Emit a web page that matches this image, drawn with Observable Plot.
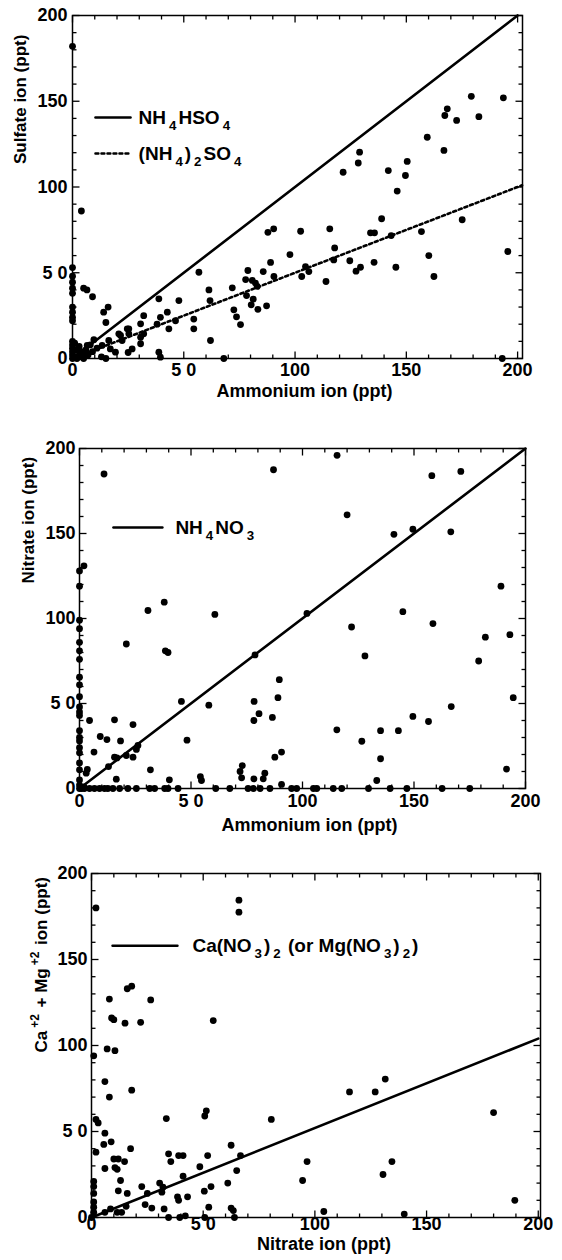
<!DOCTYPE html>
<html>
<head>
<meta charset="utf-8">
<script src="https://cdn.jsdelivr.net/npm/d3@7"></script>
<script src="https://cdn.jsdelivr.net/npm/@observablehq/plot@0.6"></script>
<style>
  html, body { margin: 0; padding: 0; background: #fff; }
  #chart svg { display: block; }
</style>
</head>
<body>
<div id="chart"></div>
<script>
// ---------- tick labels ----------
const majorTicks = [0, 50, 100, 150, 200];
const minorTicks = [10, 20, 30, 40, 60, 70, 80, 90, 110, 120, 130, 140, 160, 170, 180, 190];
const tickLabel = d => d === 50 ? "5 0" : String(d);

// ---------- panel 1: sulfate vs ammonium (ppt) ----------
const sulfateVsAmmonium = [
  [0,182],[0,53],[0,48],[0,44.5],[0,41],[0,38],[0,30],[0,27],[0,24],[0,22],[0,10],[0,8],[0,6],[0,4],[0,2],[0,0],[1,9],[1,5],[1,1],
  [2,0],[2,5],[3,2],[3,7],[4,1],[4,4],[5,0],[5,3],[6,5],[7,2],[8,8],[9,4],[11,6],[13,1],
  [4,86],[5,41],[6.5,40],[9,36],[14,27],[16,30],[15,21],[9.6,11],[6.6,7.6],[13.3,7.6],[16.3,10.5],[17,5.6],[19.3,3.7],
  [21.6,13.4],[22.3,10.5],[25.3,17.3],[25.3,14.4],[26.8,5.6],[25,3.5],[30.6,12.4],[32,14.4],[30.6,20.2],[32,25],[30.6,8.6],
  [38.8,34.8],[38,20],[39.5,24],[42.6,27],[43.3,17.3],[38.8,3.7],[39.5,0.8],[47.8,33.8],[46.3,22],[54.5,23],[54.5,17.3],
  [56.8,50.3],[15,0],[20.8,14.4],[24.6,17.3],[61.3,40],[61.8,33.8],[62,10.5],[68,0],
  [71.8,41.2],[72.5,28.4],[73.7,24.3],[75.5,19.8],[78.8,51.3],[77.8,46],[80.8,45.5],[82.2,44],[83,42],[78.2,36.7],
  [81.2,34.6],[80.3,31.3],[83.3,28.7],[87.2,30.7],[87.8,73.6],[90.4,75.6],[89,56],[85.7,50.7],[90.5,47.8],[97.7,60.6],
  [102.5,74.2],[103,47.8],[104.7,53.6],[106.2,50.7],[113.9,44.9],[115.6,75.6],[117.8,64.5],[117.4,57.5],
  [179.2,152.9],[193.6,152],[168.4,145.6],[167.3,141.7],[172.6,138.8],[182.6,141],[159.4,129],[166.9,121.3],
  [129,120.3],[128.4,114],[121.6,108.6],[141.9,109.6],[150.4,114.9],[149.6,106.7],[145.9,97.6],[138.9,81.5],
  [175.1,80.9],[133.9,73.3],[135.7,73.3],[143.2,71.7],[156.8,74],[124.6,57],[127.4,50.9],[129.4,53.2],[135.5,56.1],
  [145.3,53.2],[160.1,60],[162.4,47.8],[195.6,62.4],[193.1,0]
];
const nh4hso4Line = [[0, 0], [200, 200]];
const nh42so4Line = [[0, 0], [202, 101]];

// ---------- panel 2: nitrate vs ammonium (ppt) ----------
const nitrateVsAmmonium = [
  [0,128],[2,131],[0,119],[0,99],[0,94],[0,86],[0,81],[0,76],[0,65.5],[0,61],[0,54],[0,48],[0,45],[0,43],[0,34],[0,30],
  [0,28],[0,24],[0,21],[0,15],[0,11],[0,5],[0,2],[0,0],[1,0],[2,1],
  [11,185],[87,187.5],[115.5,196],[158,184],[171,186.5],[120,161],[141,149.5],[149.5,152.5],[166.5,151],
  [30.7,104.7],[38,109.6],[38.5,81],[39.7,80],[21,85],[60.7,102.4],[102,103],[145,104],[122,95],[158.5,97],
  [189,119],[182,89],[193,90.5],[179,75],[128,78],[78.7,78.6],
  [4.5,40],[9.3,30.6],[12.3,28.8],[15.7,40.4],[18.4,28],[24,37.6],[21,19.4],[24,18.4],[15.7,18.4],[16.8,18],
  [13,12.9],[16.5,5.5],[6.5,21.4],[3.5,11.2],[3,9],[26.2,25.3],[25.5,23],[31.8,11],[40.3,5.1],
  [45.7,51.2],[48.2,28.4],[58,49],[54.2,7],[54.7,4.7],
  [78.3,51.2],[80.5,44],[78.2,40],[86.5,41.8],[89.6,64],[89,53.4],[87.6,18.4],[90.6,21.4],[72,10],[72.7,6.3],
  [73,13.5],[78.2,5.7],[82.4,5.7],[83.1,9],[90.6,2.4],
  [194.5,53.4],[166.7,48.2],[149.5,42.4],[156.5,39.4],[115.4,34.5],[135,34],[143,34],[126.6,27.8],[135,17.5],
  [191.5,11.4],[133.3,4.7],
  [2.2,0],[4.5,0],[6.7,0],[9,0],[11.2,0],[12.7,0],[15,0],[18,0],[21.7,0],[25.5,0],[31.5,0],[33.7,0],[38.2,0],
  [39.7,0],[44.2,0],[61.1,0],[67.4,0],[75.6,0],[78,0],[81,0],[85.4,0],[95.1,0],[97.4,0],[104.9,0],[106.4,0],
  [113.8,0],[117.6,0],[129.6,0],[139.3,0],[146.8,0],[162.6,0],[175,0]
];
const nh4no3Line = [[0, 0], [200, 200]];

// ---------- panel 3: Ca+2 + Mg+2 vs nitrate (ppt) ----------
const caMgVsNitrate = [
  [2,180],[1,94],[2,57],[3,55],[2,38],[1,21],[1,18],[1,14],[1,9],[1,6],[0,0],[1,3],
  [8,127],[9,116],[10,115],[16,133],[18,134.5],[15,113],[22,113.5],[26.5,126.5],[54.5,114.5],
  [66,184.5],[66,177.5],
  [7,98],[10.5,97],[6,79],[8,70],[18,74],
  [6,49],[5.5,42.5],[8.8,44],[17.5,40],
  [10,34],[12,34],[14.8,32.5],[6,28.5],[10.5,29],[11.5,28],
  [13,21.5],[12,15.5],[16,14],[22.5,18],[25,14],[24,7.5],[27,5.5],
  [30.5,20],[32,17.6],[31.5,14.7],[33.5,57.5],[34.5,37],[35.5,32.5],[39,36],[41,36],[41,24],[38.5,12],[39,10],
  [43,12],[32.5,5],[34.5,0],[39.5,0],[42,1],
  [8.5,5],[6,3],[11.5,3],[13.5,3],[15.5,6.5],
  [48.5,29.5],[50.7,59],[51.4,62],[52,36],[50.5,15.3],[53.5,18],[52.5,6],[50.7,0],
  [62.5,42],[65,27.3],[66.7,36],[61,20],[62.5,5.5],[63.5,4],[64,0],
  [80.5,57],[115.5,73],[127,73],[131.5,80.5],[180,61],[96.5,32.5],[94.5,21.5],[134.5,32.5],[130.5,25],
  [189.5,10],[104,3.5],[140,2]
];
const caNitrateLine = [[0, 0], [200, 104]];

// ---------- legend entries ----------
const legend1 = [
  {label: "NH_{4}HSO_{4}", dash: null, x1: 10.3, x2: 26.1, y: 140.5, tx: 29.7},
  {label: "(NH_{4})_{2}SO_{4}", dash: "3,3", x1: 10.3, x2: 26.1, y: 119.5, tx: 29.7}
];
const legend2 = [
  {label: "NH_{4}NO_{3}", dash: null, x1: 15.2, x2: 37.2, y: 153.5, tx: 43}
];
const legend3 = [
  {label: "Ca(NO_{3})_{2} (or Mg(NO_{3})_{2})", dash: null, x1: 9.4, x2: 38.5, y: 158, tx: 45.2}
];

// ---------- helpers ----------
function tickSym(dx, dy, len) {
  return {draw(ctx) { ctx.moveTo(0, 0); ctx.lineTo(dx * len, dy * len); }};
}
const MAJ = 7, MIN = 4;
const tickStyle = {r: 1, fill: "none", stroke: "black", strokeWidth: 1.3};

function frameTicks(xd, yd) {
  const [x0, x1] = xd, [y0, y1] = yd;
  const out = [];
  for (const [vals, len] of [[majorTicks, MAJ], [minorTicks, MIN]]) {
    out.push(Plot.dot(vals, {x: d => d, y: () => y0, symbol: tickSym(0, -1, len), ...tickStyle}));
    out.push(Plot.dot(vals, {x: d => d, y: () => y1, symbol: tickSym(0, 1, len), ...tickStyle}));
    out.push(Plot.dot(vals, {x: () => x0, y: d => d, symbol: tickSym(1, 0, len), ...tickStyle}));
    out.push(Plot.dot(vals, {x: () => x1, y: d => d, symbol: tickSym(-1, 0, len), ...tickStyle}));
  }
  return out;
}

function richify(svg) {
  const NS = "http://www.w3.org/2000/svg";
  svg.querySelectorAll("text").forEach(t => {
    const s = t.textContent;
    if (!/[_^]\{/.test(s)) return;
    while (t.firstChild) t.removeChild(t.firstChild);
    const re = /([_^])\{([^}]*)\}/g;
    let last = 0, m, shift = 0;
    const add = (str, dy, small, dx) => {
      const ts = document.createElementNS(NS, "tspan");
      ts.textContent = str;
      if (dy) ts.setAttribute("dy", dy);
      if (dx) ts.setAttribute("dx", dx);
      if (small) ts.setAttribute("font-size", "0.7em");
      t.appendChild(ts);
    };
    while ((m = re.exec(s))) {
      if (m.index > last) { add(s.slice(last, m.index), -shift, false, shift ? 2 : 0); shift = 0; }
      const target = m[1] === "_" ? 6 : -8;
      add(m[2], target - shift, true, 3);
      shift = target;
      last = re.lastIndex;
    }
    if (last < s.length) add(s.slice(last), -shift, false, shift ? 2 : 0);
  });
}

const FONT = "'Liberation Sans', Arial, Helvetica, sans-serif";

function makePanel(cfg) {
  const {points, lines, legend, xTitle, yTitle, height, mt, mb, ml, mr, xDomain, yDomain,
         xTickPad, yTickPad, xTitleDx, xTitleDy, yTitleDx, yTitleDy} = cfg;
  const marks = [
    ...frameTicks(xDomain, yDomain),
    ...lines.map(l => Plot.line(l.data, {x: d => d[0], y: d => d[1], stroke: "black", strokeWidth: 2.6, strokeDasharray: l.dash || undefined})),
    ...legend.map(e => Plot.line([[e.x1, e.y], [e.x2, e.y]], {x: d => d[0], y: d => d[1], stroke: "black", strokeWidth: 2.4, strokeDasharray: e.dash || undefined})),
    Plot.text(legend, {x: d => d.tx, y: d => d.y, text: d => d.label, textAnchor: "start", fontSize: 19, fontWeight: "bold", fill: "black"}),
    Plot.dot(points, {x: d => d[0], y: d => d[1], r: 3.4, fill: "black", stroke: "none"}),
    Plot.frame({stroke: "black", strokeWidth: 1.5}),
    Plot.axisX({ticks: majorTicks, tickSize: 0, tickPadding: xTickPad, tickFormat: tickLabel, fontSize: 18, fontWeight: "bold", label: null, fill: "black"}),
    Plot.axisY({ticks: majorTicks, tickSize: 0, tickPadding: yTickPad, tickFormat: tickLabel, fontSize: 18, fontWeight: "bold", label: null, fill: "black"}),
    Plot.text([xTitle], {frameAnchor: "bottom", dx: xTitleDx, dy: xTitleDy, text: d => d, fontSize: 18, fontWeight: "bold", fill: "black"}),
    Plot.text([yTitle], {frameAnchor: "left", rotate: -90, dx: yTitleDx, dy: yTitleDy, text: d => d, fontSize: 17, fontWeight: "bold", fill: "black"})
  ];
  const svg = Plot.plot({
    width: 562, height,
    marginTop: mt, marginBottom: mb, marginLeft: ml, marginRight: mr,
    x: {domain: xDomain},
    y: {domain: yDomain},
    style: {fontFamily: FONT, fontSize: "18px", background: "white", color: "black", overflow: "visible"},
    marks
  });
  richify(svg);
  return svg;
}

const chart = document.getElementById("chart");
chart.appendChild(makePanel({
  points: sulfateVsAmmonium,
  lines: [{data: nh4hso4Line, dash: null}, {data: nh42so4Line, dash: "3,3"}],
  legend: legend1,
  xTitle: "Ammonium ion (ppt)", yTitle: "Sulfate ion (ppt)",
  height: 415, mt: 15, mb: 57, ml: 72, mr: 40,
  xDomain: [0, 202.2], yDomain: [0, 200],
  xTickPad: 5, yTickPad: 5, xTitleDx: 7, xTitleDy: 38, yTitleDx: -52, yTitleDy: -23
}));
chart.appendChild(makePanel({
  points: nitrateVsAmmonium,
  lines: [{data: nh4no3Line, dash: null}],
  legend: legend2,
  xTitle: "Ammonium ion (ppt)", yTitle: "Nitrate ion (ppt)",
  height: 435, mt: 33, mb: 62, ml: 79, mr: 37,
  xDomain: [0, 200], yDomain: [0, 200],
  xTickPad: 6, yTickPad: 4, xTitleDx: 7, xTitleDy: 42, yTitleDx: -51, yTitleDy: -35
}));
chart.appendChild(makePanel({
  points: caMgVsNitrate,
  lines: [{data: caNitrateLine, dash: null}],
  legend: legend3,
  xTitle: "Nitrate ion (ppt)", yTitle: "Ca^{+2} + Mg^{+2} ion (ppt)",
  height: 410, mt: 23, mb: 43, ml: 91, mr: 22,
  xDomain: [0, 201], yDomain: [0, 200],
  xTickPad: 0, yTickPad: 4, xTitleDx: 8, xTitleDy: 32, yTitleDx: -50, yTitleDy: 7
}));
</script>
</body>
</html>
